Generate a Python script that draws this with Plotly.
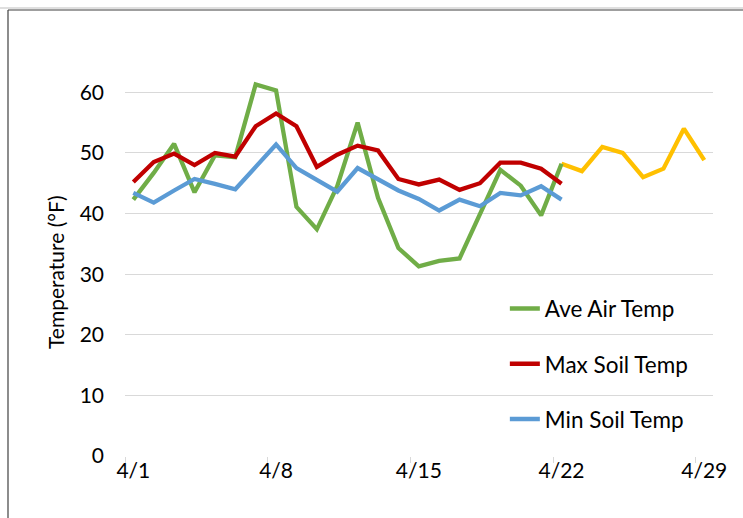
import plotly.graph_objects as go
import pandas as pd

dates_main = pd.date_range("2019-04-01", "2019-04-22", freq="D")
dates_fcst = pd.date_range("2019-04-22", "2019-04-29", freq="D")

ave_air = [42.3, 46.7, 51.5, 43.5, 49.6, 49.3, 61.3, 60.3, 41.1, 37.4, 44.5,
           55.0, 42.6, 34.3, 31.3, 32.2, 32.6, 39.8, 47.2, 44.6, 39.7, 48.2]
max_soil = [45.2, 48.5, 49.9, 48.0, 50.0, 49.4, 54.4, 56.5, 54.4, 47.7, 49.7,
            51.2, 50.4, 45.7, 44.8, 45.6, 43.9, 45.0, 48.4, 48.4, 47.4, 44.9]
min_soil = [43.4, 41.8, 43.8, 45.7, 44.9, 44.0, 47.7, 51.4, 47.5, 45.5, 43.6,
            47.5, 45.6, 43.8, 42.4, 40.5, 42.3, 41.2, 43.4, 43.0, 44.5, 42.3]
forecast = [48.2, 47.0, 51.0, 50.0, 46.0, 47.4, 54.0, 48.8]

tick_dates = ["2019-04-01", "2019-04-08", "2019-04-15", "2019-04-22", "2019-04-29"]
tick_labels = ["4/1", "4/8", "4/15", "4/22", "4/29"]
y_ticks = [0, 10, 20, 30, 40, 50, 60]
y_title = "Temperature (°F)"

FONT = "Lato"
fig = go.Figure()
fig.add_trace(go.Scatter(x=dates_fcst, y=forecast, mode="lines", showlegend=False,
                         line=dict(color="#FFC000", width=4.3)))
fig.add_trace(go.Scatter(x=dates_main, y=ave_air, mode="lines", name="Ave Air Temp",
                         legendgroup="a", line=dict(color="#70AD47", width=4.3)))
fig.add_trace(go.Scatter(x=dates_main, y=max_soil, mode="lines", name="Max Soil Temp",
                         legendgroup="b", line=dict(color="#C00000", width=4.3)))
fig.add_trace(go.Scatter(x=dates_main, y=min_soil, mode="lines", name="Min Soil Temp",
                         legendgroup="c", line=dict(color="#5B9BD5", width=4.3)))

x0 = pd.Timestamp("2019-04-01") - pd.Timedelta(hours=9.8)
x1 = pd.Timestamp("2019-04-29") + pd.Timedelta(hours=10.3)
minor_ticks = [pd.Timestamp(d) - pd.Timedelta(hours=9.8) for d in tick_dates]

W, H = 588.0, 394.0
def px(x):
    return (x - 125) / W
def py(y):
    return (456 - y) / H

fig.update_layout(
    width=743, height=518,
    margin=dict(l=125, r=30, t=62, b=62, autoexpand=False),
    paper_bgcolor="white", plot_bgcolor="white",
    font=dict(family=FONT, color="#000000", size=20),
    showlegend=True,
    legend=dict(x=0.646, y=0.428, xanchor="left", yanchor="top",
                bgcolor="rgba(0,0,0,0)", font=dict(size=22.5, family=FONT),
                tracegroupgap=23, traceorder="grouped"),
    xaxis=dict(type="date", range=[x0, x1], tickvals=tick_dates, ticktext=tick_labels,
               showgrid=False, zeroline=False, showline=False, ticks="",
               tickfont=dict(size=21, family=FONT), automargin=False,
               minor=dict(tickvals=minor_ticks, ticks="outside", ticklen=6,
                          tickcolor="#D9D9D9", showgrid=False)),
    yaxis=dict(range=[0, 65], tickvals=y_ticks, showgrid=True, gridcolor="#D9D9D9",
               gridwidth=1.3, zeroline=False, showline=False, ticks="", automargin=False,
               ticklabelstandoff=20, tickfont=dict(size=21, family=FONT)),
    annotations=[dict(text=y_title, textangle=-90, xref="paper", yref="paper",
                      x=px(55), y=py(272), xanchor="center", yanchor="middle",
                      showarrow=False, font=dict(size=21, family=FONT, color="#000000"))],
)

# outer frame of the picture
fig.add_shape(type="line", xref="paper", yref="paper", x0=px(0), x1=px(743), y0=py(8), y1=py(8),
              line=dict(color="#BFBFBF", width=1))
fig.add_shape(type="line", xref="paper", yref="paper", x0=px(8), x1=px(743), y0=py(10), y1=py(10),
              line=dict(color="#404040", width=1.2))
fig.add_shape(type="line", xref="paper", yref="paper", x0=px(8), x1=px(8), y0=py(10), y1=py(518),
              line=dict(color="#404040", width=1.2))

fig.write_html("out.html", config={"displayModeBar": False},
               post_script="document.body.style.margin='0px';")
